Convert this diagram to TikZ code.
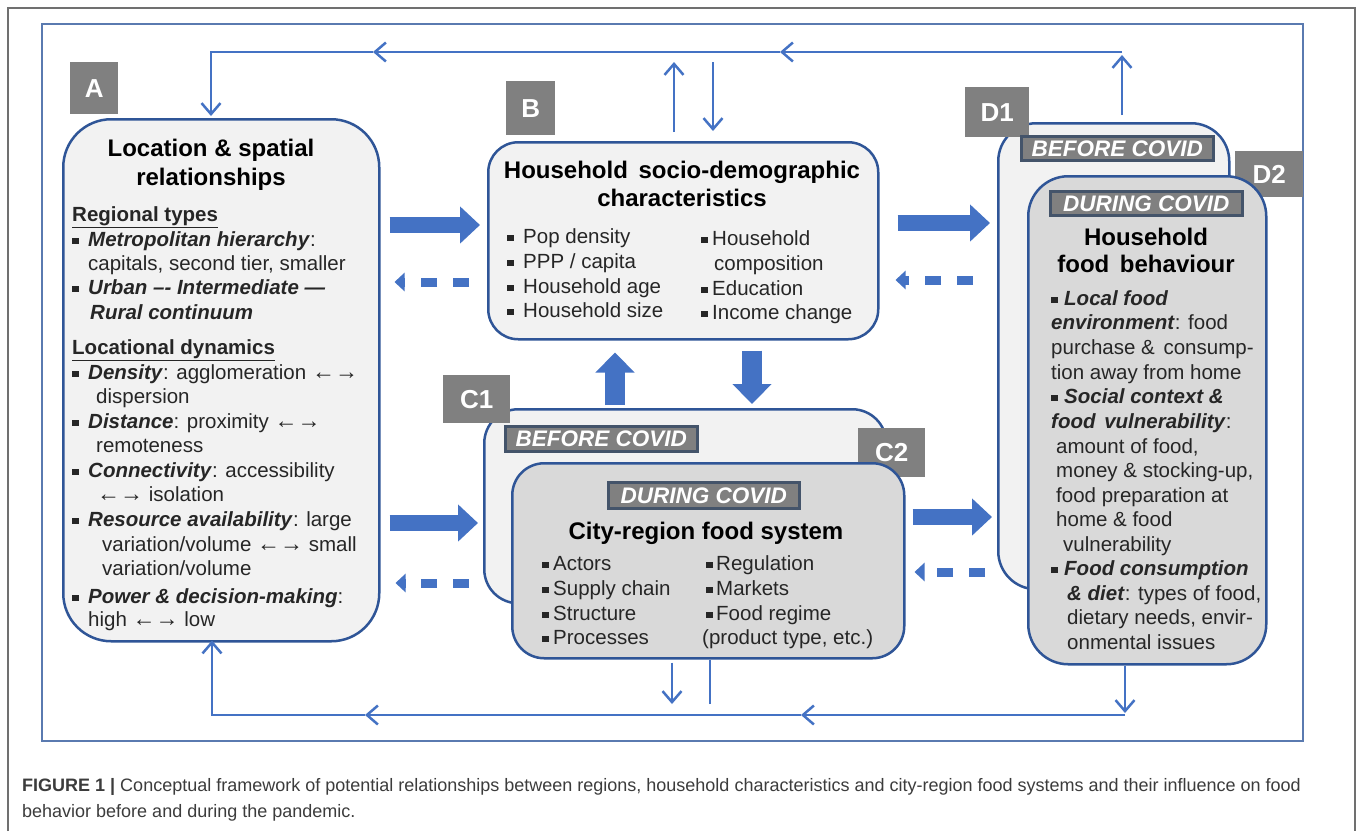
\documentclass[tikz,border=0pt]{standalone}
\usepackage{fontspec}
\setmainfont{Liberation Sans}
\usetikzlibrary{arrows.meta,calc}
\definecolor{arrowc}{HTML}{4472C4}
\definecolor{boxc}{HTML}{2F5597}
\definecolor{framec}{HTML}{5A7AB0}
\definecolor{lightf}{HTML}{F2F2F2}
\definecolor{darkf}{HTML}{D9D9D9}
\definecolor{labf}{HTML}{808080}
\definecolor{tagborder}{HTML}{44546A}
\definecolor{captc}{HTML}{3C3C3C}
\definecolor{outerc}{HTML}{707070}
\newcommand\bul[1]{\makebox[#1][l]{\raisebox{2.5pt}{\rule{6.5pt}{6.5pt}}}}
\newcommand\bi[1]{\textbf{\textit{#1}}}
\newcommand\lr{{\fontsize{23}{23}\selectfont ←→}}
\newcommand\tx[4]{\node[body] (#1) at (#2,{#3+6.5}) {#4};}
\begin{document}
\begin{tikzpicture}[x=1pt,y=-1pt,
  body/.style={inner sep=0pt, anchor=base west, font=\fontsize{20.5}{24}\selectfont, text=black!85},
  ttl/.style={inner sep=0pt, anchor=base, font=\fontsize{24}{28}\selectfont\bfseries, text=black},
  bigbox/.style={draw=boxc, line width=2.5pt, anchor=north west, inner sep=0pt},
  letterbox/.style={fill=labf, text=white, font=\fontsize{26}{26}\selectfont\bfseries, anchor=north west, inner sep=0pt},
  covidtag/.style={fill=labf, draw=tagborder, line width=2.5pt, text=white, font=\fontsize{22.5}{22.5}\selectfont\bfseries\itshape, anchor=north west, inner sep=0pt},
  fatarrow/.style={draw=arrowc, line width=16pt, -{Triangle[width=36pt,length=20pt]}},
  fatvert/.style={draw=arrowc, line width=20pt, -{Triangle[width=38pt,length=20pt]}},
  dasharrow/.style={draw=arrowc, line width=9pt, dash pattern=on 16pt off 16pt, -{Triangle[width=18pt,length=10pt]}},
  thinarrow/.style={draw=arrowc, line width=2.5pt, -{Straight Barb[length=11pt,width=19pt]}},
  thinline/.style={draw=arrowc, line width=2.5pt},
]
\useasboundingbox (0,0) rectangle (1358,831);
\fill[white] (0,0) rectangle (1358,831);
% frames
\draw[outerc, line width=1.5pt] (8,831) -- (8,8) -- (1355,8) -- (1355,831);
\draw[framec, line width=2pt] (42,24) rectangle (1303,741);

% boxes
\node[bigbox, fill=lightf, rounded corners=48pt, minimum width=316pt, minimum height=522pt] (A) at (62,118) {};
\node[letterbox, minimum width=48pt, minimum height=52pt] (labA) at (70,62) {A};
\node[bigbox, fill=lightf, rounded corners=30pt, minimum width=390pt, minimum height=197pt] (B) at (487,141) {};
\node[letterbox, minimum width=49pt, minimum height=54pt] (labB) at (506,81) {B};
\node[bigbox, fill=lightf, rounded corners=34pt, minimum width=402pt, minimum height=194pt] (C1) at (483,408) {};
\node[letterbox, minimum width=67pt, minimum height=48pt] (labC1) at (443,375) {C1};
\node[covidtag, minimum width=192pt, minimum height=25pt] (c1tag) at (504,425) {BEFORE COVID};
\node[letterbox, minimum width=67pt, minimum height=49pt] (labC2) at (858,428) {C2};
\node[bigbox, fill=darkf, rounded corners=32pt, minimum width=392pt, minimum height=195pt] (C2) at (511,462) {};
\node[covidtag, minimum width=191pt, minimum height=26pt] (c2tag) at (607,481) {DURING COVID};
\node[bigbox, fill=lightf, rounded corners=38pt, minimum width=231pt, minimum height=466pt] (D1) at (997,122) {};
\node[letterbox, minimum width=64pt, minimum height=50pt] (labD1) at (965,87) {D1};
\node[covidtag, minimum width=192pt, minimum height=24pt] (d1tag) at (1020,135) {BEFORE COVID};
\node[letterbox, minimum width=68pt, minimum height=46pt] (labD2) at (1235,151) {D2};
\node[bigbox, fill=darkf, rounded corners=40pt, minimum width=238pt, minimum height=488pt] (D2) at (1027,175) {};
\node[covidtag, minimum width=192pt, minimum height=24pt] (d2tag) at (1049,190) {DURING COVID};

% texts A
\node[ttl] (at1) at (211,156) {Location \& spatial};
\node[ttl] (at2) at (211,185) {relationships};
\tx{a1}{72}{215}{\underline{\textbf{Regional types}}}
\tx{a2}{72}{240}{\bul{16pt}\bi{Metropolitan hierarchy}:}
\tx{a3}{88}{264}{capitals, second tier, smaller}
\tx{a4}{72}{288}{\bul{16pt}\bi{Urban –- Intermediate ---}}
\tx{a5}{90}{313}{\bi{Rural continuum}}
\tx{a6}{72}{348}{\underline{\textbf{Locational dynamics}}}
\tx{a7}{72}{373}{\bul{16pt}\bi{Density}: agglomeration \lr}
\tx{a8}{96}{397}{dispersion}
\tx{a9}{72}{422}{\bul{16pt}\bi{Distance}: proximity \lr}
\tx{a10}{96}{446}{remoteness}
\tx{a11}{72}{471}{\bul{16pt}\bi{Connectivity}: accessibility}
\tx{a12}{97}{495}{\lr\ isolation}
\tx{a13}{72}{520}{\bul{16pt}\bi{Resource availability}: large}
\tx{a14}{102}{545}{variation/volume \lr\ small}
\tx{a15}{102}{569}{variation/volume}
\tx{a16}{72}{597}{\bul{16pt}\bi{Power \& decision-making}:}
\tx{a17}{88}{620}{high \lr\ low}

% texts B
\node[ttl] (bt1) at (682,178) {Household\hspace{4pt} socio-demographic};
\node[ttl] (bt2) at (682,206) {characteristics};
\tx{b1}{507}{237}{\bul{16pt}Pop density}
\tx{b2}{507}{262}{\bul{16pt}PPP / capita}
\tx{b3}{507}{287}{\bul{16pt}Household age}
\tx{b4}{507}{311}{\bul{16pt}Household size}
\tx{b5}{701}{239}{\bul{11pt}Household}
\tx{b6}{714}{264}{composition}
\tx{b7}{701}{289}{\bul{11pt}Education}
\tx{b8}{701}{313}{\bul{11pt}Income change}

% texts C2
\node[ttl] (ct1) at (706,539) {City-region food system};
\tx{c1}{542}{564}{\bul{11pt}Actors}
\tx{c2}{542}{589}{\bul{11pt}Supply chain}
\tx{c3}{542}{614}{\bul{11pt}Structure}
\tx{c4}{542}{638}{\bul{11pt}Processes}
\tx{c5}{706}{564}{\bul{10pt}Regulation}
\tx{c6}{706}{589}{\bul{10pt}Markets}
\tx{c7}{706}{614}{\bul{10pt}Food regime}
\tx{c8}{702}{638}{(product type, etc.)}

% texts D2
\node[ttl] (dt1) at (1146,245) {Household};
\node[ttl] (dt2) at (1146,272) {food\hspace{4pt} behaviour};
\tx{d1}{1051}{299}{\bul{13pt}\bi{Local food}}
\tx{d2}{1051}{323}{\bi{environment}: food}
\tx{d3}{1051}{348}{purchase \&\hspace{3pt} consump-}
\tx{d4}{1051}{373}{tion away from home}
\tx{d5}{1051}{397}{\bul{13pt}\bi{Social context \&}}
\tx{d6}{1051}{422}{\bi{food\hspace{3pt} vulnerability}:}
\tx{d7}{1056}{447}{amount of food,}
\tx{d8}{1056}{471}{money \& stocking-up,}
\tx{d9}{1056}{496}{food preparation at}
\tx{d10}{1056}{520}{home \& food}
\tx{d11}{1063}{545}{vulnerability}
\tx{d12}{1051}{569}{\bul{13pt}\bi{Food consumption}}
\tx{d13}{1067}{594}{\bi{\& diet}: types of food,}
\tx{d14}{1067}{618}{dietary needs, envir-}
\tx{d15}{1067}{643}{onmental issues}

% fat arrows
\draw[fatarrow, shorten <=9pt, shorten >=7pt] (A.east |- 0,225) -- (B.west |- 0,225);
\draw[fatarrow, shorten <=9pt, shorten >=5pt] (A.east |- 0,523) -- (C1.west |- 0,523);
\draw[fatarrow, shorten <=18pt, shorten >=7pt] (B.east |- 0,223) -- (D1.west |- 0,223);
\draw[fatarrow, shorten <=7pt, shorten >=5pt] (C2.east |- 0,517) -- (D1.west |- 0,517);
\draw[fatvert, shorten <=10pt, shorten >=4pt] (B.south -| 752,0) -- (C1.north -| 752,0);
\draw[fatvert, shorten <=3pt, shorten >=12pt] (C1.north -| 615,0) -- (B.south -| 615,0);
% dashed arrows
\draw[dasharrow, shorten <=18pt, shorten >=14pt] (B.west |- 0,282) -- (A.east |- 0,282);
\draw[dasharrow, shorten <=14pt, shorten >=15pt] (C1.west |- 0,583) -- (A.east |- 0,583);
\draw[dasharrow, shorten <=24pt, shorten >=16pt] (D1.west |- 0,280) -- (B.east |- 0,280);
\draw[dasharrow, shorten <=12pt, shorten >=9pt] (D1.west |- 0,572) -- (C2.east |- 0,572);

% top loop
\coordinate (tr) at (1122,52);
\coordinate (tm1) at (780,52);
\coordinate (tm2) at (373,52);
\coordinate (tl) at (211,52);
\draw[thinarrow, shorten <=7pt, shorten >=3pt] (tr |- D1.north) -- (tr);
\draw[thinarrow] (tr) -- (tm1);
\draw[thinarrow] (tm1) -- (tm2);
\draw[thinarrow, shorten >=2pt] (tm2) -- (tl) -- (tl |- A.north);
\coordinate (bu) at (674,62);
\coordinate (bd) at (713,62);
\draw[thinarrow, shorten <=9pt] (bu |- B.north) -- (bu);
\draw[thinarrow, shorten >=10pt] (bd) -- (bd |- B.north);

% bottom loop
\coordinate (br) at (1125,715);
\coordinate (bm1) at (801,715);
\coordinate (bm2) at (365,715);
\coordinate (bl) at (212,715);
\draw[thinarrow, shorten >=2pt] (br |- D2.south) -- (br);
\draw[thinarrow] (br) -- (bm1);
\draw[thinarrow] (bm1) -- (bm2);
\draw[thinarrow, shorten >=-2pt] (bm2) -- (bl) -- (bl |- A.south);
\coordinate (cd) at (672,704);
\coordinate (cu) at (710,704);
\draw[thinarrow, shorten <=3pt] (cd |- C2.south) -- (cd);
\draw[thinline] (cu) -- (cu |- C2.south);

% caption
\node[anchor=base west, inner sep=0pt, font=\fontsize{18}{26}\selectfont, text=captc] (cap1) at (22,791) {\textbf{FIGURE 1 |} Conceptual framework of potential relationships between regions, household characteristics and city-region food systems and their influence on food};
\node[anchor=base west, inner sep=0pt, font=\fontsize{18}{26}\selectfont, text=captc] (cap2) at (22,817) {behavior before and during the pandemic.};
\end{tikzpicture}
\end{document}
